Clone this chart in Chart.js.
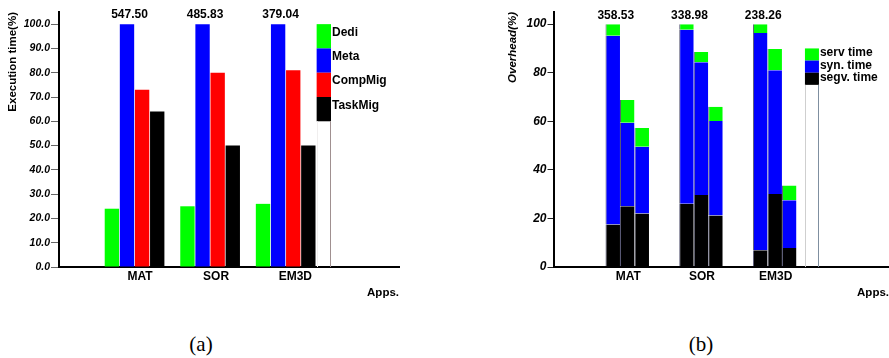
<!DOCTYPE html>
<html>
<head>
<meta charset="utf-8">
<script src="https://cdn.jsdelivr.net/npm/chart.js@4.4.1/dist/chart.umd.min.js"></script>
<style>
  body { margin: 0; background: #fff; width: 889px; height: 358px; position: relative; overflow: hidden; }
  canvas { position: absolute; top: 0; }
  #chartA { left: 0; }
  #chartB { left: 444px; }
  .cap { position: absolute; top: 332px; width: 60px; text-align: center; font-family: 'Liberation Serif', serif; font-size: 21px; line-height: 24px; }
</style>
</head>
<body>
<canvas id="chartA" width="444" height="305"></canvas>
<canvas id="chartB" width="445" height="305"></canvas>
<div class="cap" style="left:171px">(a)</div>
<div class="cap" style="left:671px">(b)</div>
<script>
// apps on the x axis (same for both charts)
const apps = ['MAT', 'SOR', 'EM3D'];

// (a) execution time, normalised to Meta = 100
const dedi = [24, 25, 26];
const meta = [100, 100, 100];
const compMig = [73, 80, 81];
const taskMig = [64, 50, 50];
const metaTotals = ['547.50', '485.83', '379.04'];
const yTicksA = [0, 10, 20, 30, 40, 50, 60, 70, 80, 90, 100];

// (b) overhead breakdown, three bars per app
const segv1 = [17.5, 26.0, 6.9];
const syn1 = [77.7, 71.7, 89.5];
const serv1 = [4.8, 2.3, 3.6];
const segv2 = [25.0, 29.6, 30.1];
const syn2 = [34.4, 54.7, 50.9];
const serv2 = [9.4, 4.2, 8.8];
const segv3 = [22.0, 21.2, 7.8];
const syn3 = [27.5, 38.9, 19.7];
const serv3 = [7.7, 5.9, 6.1];
const overheadTotals = ['358.53', '338.98', '238.26'];
const yTicksB = [0, 20, 40, 60, 80, 100];

const GREEN = '#00ff00', BLUE = '#0000ff', RED = '#ff0000', BLACK = '#000000';

Chart.defaults.font.family = "'Liberation Sans', Arial, sans-serif";
Chart.defaults.color = '#000';

const toPoints = (arr) => arr.map((v, i) => ({ x: i + 1, y: v }));

// text above one bar of each group
const totalsPlugin = {
  id: 'totals',
  afterDatasetsDraw(chart, args, opts) {
    const ctx = chart.ctx;
    const meta = chart.getDatasetMeta(opts.dataset);
    const y = chart.scales.y.getPixelForValue(100) - opts.lift;
    ctx.save();
    ctx.font = 'bold 12px ' + Chart.defaults.font.family;
    ctx.fillStyle = '#000';
    ctx.textAlign = 'center';
    ctx.textBaseline = 'middle';
    meta.data.forEach((bar, i) => {
      ctx.fillText(opts.labels[i], bar.x + opts.shift, y);
    });
    ctx.restore();
  }
};

// legend drawn as a column of boxes next to the last group
const columnLegend = {
  id: 'columnLegend',
  afterDatasetsDraw(chart, args, opts) {
    const ctx = chart.ctx;
    const xs = chart.scales.x, ys = chart.scales.y;
    const x0 = xs.getPixelForValue(opts.from), x1 = xs.getPixelForValue(opts.to);
    ctx.save();
    opts.items.forEach(it => {
      const yt = ys.getPixelForValue(it.top), yb = ys.getPixelForValue(it.bottom);
      ctx.fillStyle = it.color;
      ctx.fillRect(x0, yt, x1 - x0, yb - yt);
    });
    const last = opts.items[opts.items.length - 1];
    const yt = ys.getPixelForValue(last.bottom), yb = ys.getPixelForValue(0);
    ctx.lineWidth = 1;
    ctx.strokeStyle = opts.leftEdge;
    ctx.beginPath(); ctx.moveTo(Math.round(x0) + 0.5, yt); ctx.lineTo(Math.round(x0) + 0.5, yb); ctx.stroke();
    ctx.strokeStyle = opts.rightEdge;
    ctx.beginPath(); ctx.moveTo(Math.round(x1) - 0.5, yt); ctx.lineTo(Math.round(x1) - 0.5, yb); ctx.stroke();
    ctx.font = 'bold 12px ' + Chart.defaults.font.family;
    ctx.fillStyle = '#000';
    ctx.textAlign = 'left';
    ctx.textBaseline = 'alphabetic';
    opts.items.forEach(it => {
      ctx.fillText(it.label, x1 + 1, ys.getPixelForValue(it.top) + opts.baseline);
    });
    ctx.restore();
  }
};

function xAxis(max, tickOpts) {
  return {
    type: 'linear', min: 0, max: max, offset: false,
    grid: { display: false, offset: false, drawTicks: false },
    border: { display: true, color: '#000', width: 2 },
    afterBuildTicks: (s) => { s.ticks = apps.map((a, i) => ({ value: i + 1 })); },
    afterFit: (s) => { s.height = 38; },
    ticks: Object.assign({
      padding: 2,
      font: { size: 12, weight: 'bold' },
      callback: (v) => apps[v - 1] || ''
    }, tickOpts),
    title: { display: true, text: 'Apps.', align: 'end', padding: { top: 0, bottom: 5 }, font: { size: 11.5, weight: 'bold' } }
  };
}

new Chart(document.getElementById('chartA'), {
  type: 'bar',
  data: {
    datasets: [
      { label: 'Dedi', data: toPoints(dedi), backgroundColor: GREEN },
      { label: 'Meta', data: toPoints(meta), backgroundColor: BLUE },
      { label: 'CompMig', data: toPoints(compMig), backgroundColor: RED },
      { label: 'TaskMig', data: toPoints(taskMig), backgroundColor: BLACK }
    ]
  },
  options: {
    responsive: false, animation: false, devicePixelRatio: 1,
    layout: { padding: { top: 12, right: 45, left: 0, bottom: 0 } },
    datasets: { bar: { categoryPercentage: 0.8, barPercentage: 0.95 } },
    scales: {
      x: xAxis(4.5, { align: 'start', labelOffset: -7 }),
      y: {
        min: 0, max: 105,
        grid: { drawOnChartArea: false, color: '#666', tickLength: 8 },
        border: { display: true, color: '#000', width: 2 },
        afterBuildTicks: (s) => { s.ticks = yTicksA.map(v => ({ value: v })); },
        afterFit: (s) => { s.width = 59; },
        ticks: { padding: 1, font: { size: 10.5, weight: 'bold', style: 'italic' }, callback: (v) => v.toFixed(1) },
        title: { display: true, text: 'Execution time(%)', align: 'end', padding: { top: 6, bottom: 0 }, font: { size: 11.5, weight: 'bold' } }
      }
    },
    plugins: {
      legend: { display: false }, tooltip: { enabled: false },
      totals: { dataset: 1, labels: metaTotals, lift: 9, shift: 2.5 },
      columnLegend: {
        from: 3.41, to: 3.60, baseline: 11.5, leftEdge: '#f0eeee', rightEdge: '#a09090',
        items: [
          { label: 'Dedi', color: GREEN, top: 100, bottom: 90 },
          { label: 'Meta', color: BLUE, top: 90, bottom: 80 },
          { label: 'CompMig', color: RED, top: 80, bottom: 70 },
          { label: 'TaskMig', color: BLACK, top: 70, bottom: 60 }
        ]
      }
    }
  },
  plugins: [totalsPlugin, columnLegend]
});

const segStyle = { borderColor: 'rgba(20,20,60,0.7)', borderWidth: { left: 1, right: 0, top: 0, bottom: 0 }, borderSkipped: false };

new Chart(document.getElementById('chartB'), {
  type: 'bar',
  data: {
    datasets: [
      Object.assign({ label: 'segv. time', stack: 'b1', data: toPoints(segv1), backgroundColor: BLACK }, segStyle),
      Object.assign({ label: 'syn. time', stack: 'b1', data: toPoints(syn1), backgroundColor: BLUE }, segStyle),
      Object.assign({ label: 'serv time', stack: 'b1', data: toPoints(serv1), backgroundColor: GREEN }, segStyle),
      Object.assign({ label: 'segv. time', stack: 'b2', data: toPoints(segv2), backgroundColor: BLACK }, segStyle),
      Object.assign({ label: 'syn. time', stack: 'b2', data: toPoints(syn2), backgroundColor: BLUE }, segStyle),
      Object.assign({ label: 'serv time', stack: 'b2', data: toPoints(serv2), backgroundColor: GREEN }, segStyle),
      Object.assign({ label: 'segv. time', stack: 'b3', data: toPoints(segv3), backgroundColor: BLACK }, segStyle),
      Object.assign({ label: 'syn. time', stack: 'b3', data: toPoints(syn3), backgroundColor: BLUE }, segStyle),
      Object.assign({ label: 'serv time', stack: 'b3', data: toPoints(serv3), backgroundColor: GREEN }, segStyle)
    ]
  },
  options: {
    responsive: false, animation: false, devicePixelRatio: 1,
    layout: { padding: { top: 12, right: 0, left: 0, bottom: 0 } },
    datasets: { bar: { categoryPercentage: 0.59, barPercentage: 1 } },
    scales: {
      x: xAxis(4.55, { labelOffset: 1 }),
      y: {
        min: 0, max: 105, stacked: true,
        grid: { drawOnChartArea: false, color: '#222', tickLength: 6 },
        border: { display: true, color: '#000', width: 2 },
        afterBuildTicks: (s) => { s.ticks = yTicksB.map(v => ({ value: v })); },
        afterFit: (s) => { s.width = 109.5; },
        ticks: { padding: 1, font: { size: 12, weight: 'bold', style: 'italic' } },
        title: { display: true, text: 'Overhead(%)', align: 'end', padding: { top: 62, bottom: 0 }, font: { size: 11.5, weight: 'bold', style: 'italic' } }
      }
    },
    plugins: {
      legend: { display: false }, tooltip: { enabled: false },
      totals: { dataset: 0, labels: overheadTotals, lift: 8.5, shift: 3 },
      columnLegend: {
        from: 3.41, to: 3.60, baseline: 8, leftEdge: '#cfcfcf', rightEdge: '#7f8fa0',
        items: [
          { label: 'serv time', color: GREEN, top: 90, bottom: 85 },
          { label: 'syn. time', color: BLUE, top: 85, bottom: 80 },
          { label: 'segv. time', color: BLACK, top: 80, bottom: 75 }
        ]
      }
    }
  },
  plugins: [totalsPlugin, columnLegend]
});
</script>
</body>
</html>
